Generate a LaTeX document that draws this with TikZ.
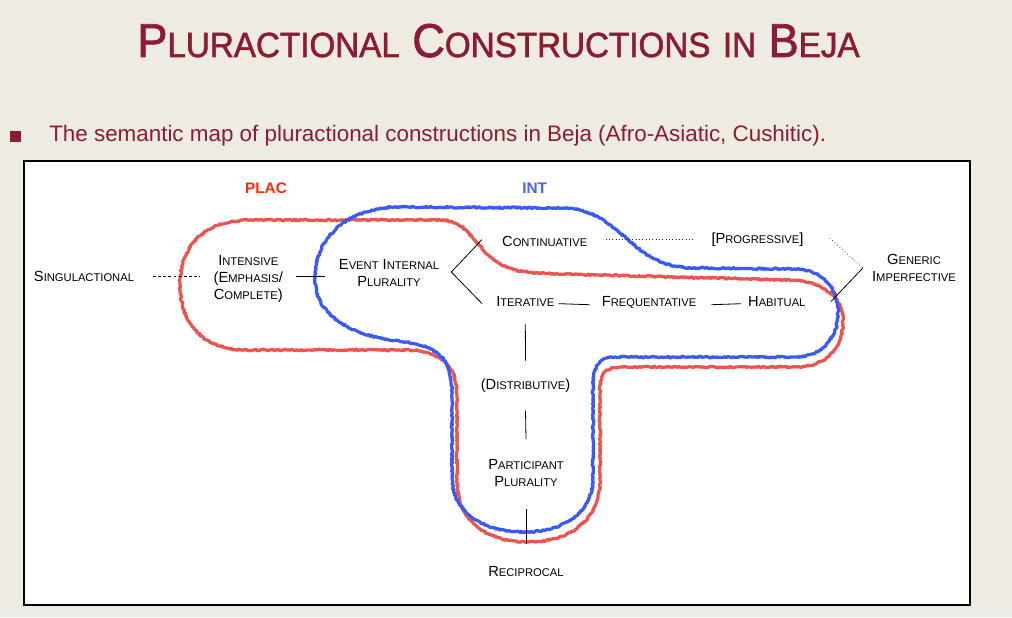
\documentclass[tikz,border=0pt]{standalone}
\usepackage{fontspec}
\setmainfont{Liberation Sans}
\newfontfamily\titrefont{Liberation Sans}[FakeBold=1.6,FakeStretch=0.95]
\usetikzlibrary{calc,decorations.pathmorphing}

\definecolor{bordeaux}{RGB}{140,28,52}
\definecolor{fond}{RGB}{238,235,227}
\definecolor{rougeplac}{RGB}{236,84,80}
\definecolor{bleuint}{RGB}{58,90,245}
\definecolor{rougelab}{RGB}{255,45,10}
\definecolor{bleulab}{RGB}{72,100,240}

% petites capitales simulees
\newcommand\kap[2]{#1{\fontsize{8.4}{9.6}\selectfont #2}}
\newcommand\tkap[2]{#1{\fontsize{26.2}{30}\selectfont #2}}

\begin{document}
\begin{tikzpicture}[x=0.75pt,y=-0.75pt,
  etiq/.style={font=\fontsize{11}{12.75}\selectfont, inner sep=0pt, align=center},
  trait/.style={line width=0.6pt},
  pointille/.style={line width=0.5pt, dotted, black!85},
  tirets/.style={line width=0.6pt, dash pattern=on 2.2pt off 1.6pt},
  zone/.style={line width=2.4pt, line join=round, decorate,
    decoration={random steps, segment length=1pt, amplitude=0.6pt}}]
\pgfmathsetseed{7}

% Fond
\fill[fond] (0,0) rectangle (1012,617);
\useasboundingbox (0,0) rectangle (1012,617);

% Titre
\node[anchor=base, inner sep=0pt, text=bordeaux, font=\titrefont\fontsize{35.6}{40}\selectfont] (titre) at (498.5,57)
  {\tkap{P}{LURACTIONAL} \tkap{C}{ONSTRUCTIONS} \tkap{}{IN} \tkap{B}{EJA}};

% Puce et sous-titre
\fill[bordeaux] (10,131) rectangle (21,142);
\node[anchor=base west, inner sep=0pt, text=bordeaux, font=\fontsize{16.8}{20}\selectfont] (soustitre) at (49,141.7)
  {The semantic map of pluractional constructions in Beja (Afro-Asiatic, Cushitic).};

% Cadre
\draw[fill=white, line width=0.8pt] (24,161) rectangle (970,605);

% Zone PLAC
\draw[zone, rougeplac] (250,220) -- (440,220) .. controls (470,220) and (475,250) .. (500,264)
  .. controls (515,272) and (530,273) .. (560,274) -- (790,280)
  .. controls (820,281) and (843,295) .. (843,320) .. controls (843,350) and (825,367) .. (795,367)
  -- (620,367) .. controls (605,367) and (600,375) .. (600,392) -- (600,480)
  .. controls (600,520) and (570,542) .. (528,542) .. controls (485,542) and (457,520) .. (457,480)
  -- (457,395) .. controls (457,365) and (440,351) .. (410,350) -- (245,350)
  .. controls (205,350) and (180,325) .. (180,285) .. controls (180,245) and (205,220) .. (250,220) -- cycle;

% Zone INT
\draw[zone, bleuint] (400,207) -- (565,208) .. controls (610,210) and (625,245) .. (655,259)
  .. controls (668,266) and (680,268) .. (700,268) -- (795,269)
  .. controls (825,270) and (838,290) .. (838,312) .. controls (838,340) and (820,357) .. (795,357)
  -- (615,357) .. controls (600,357) and (593,367) .. (593,385) -- (593,478)
  .. controls (593,512) and (565,532) .. (523,532) .. controls (480,532) and (452,510) .. (452,478)
  -- (452,395) .. controls (452,360) and (440,347) .. (405,342)
  .. controls (340,335) and (315,310) .. (315,278) .. controls (315,235) and (350,207) .. (400,207) -- cycle;

% Etiquettes
\node[anchor=base, text=rougelab, font=\bfseries\fontsize{11.5}{14}\selectfont] (plac) at (266,193.3) {PLAC};
\node[anchor=base, text=bleulab, font=\bfseries\fontsize{11.5}{14}\selectfont] (int) at (534.7,193.3) {INT};

\node[etiq, anchor=base] (sing) at (84,281) {\kap{S}{INGULACTIONAL}};
\node[etiq] (intens) at (248.3,279) {\kap{I}{NTENSIVE}\\(\kap{E}{MPHASIS}/\\\kap{C}{OMPLETE})};
\node[etiq] (eip) at (389,273) {\kap{E}{VENT} \kap{I}{NTERNAL}\\\kap{P}{LURALITY}};
\node[etiq, anchor=base] (cont) at (544.7,246.7) {\kap{C}{ONTINUATIVE}};
\node[etiq, anchor=base] (prog) at (757.5,243) {[\kap{P}{ROGRESSIVE}]};
\node[etiq] (gen) at (914,268) {\kap{G}{ENERIC}\\\kap{I}{MPERFECTIVE}};
\node[etiq, anchor=base] (iter) at (525.3,306.7) {\kap{I}{TERATIVE}};
\node[etiq, anchor=base] (freq) at (649,306.7) {\kap{F}{REQUENTATIVE}};
\node[etiq, anchor=base] (hab) at (776.8,306.7) {\kap{H}{ABITUAL}};
\node[etiq, anchor=base] (dist) at (525.5,389.3) {(\kap{D}{ISTRIBUTIVE})};
\node[etiq] (part) at (526,473.3) {\kap{P}{ARTICIPANT}\\\kap{P}{LURALITY}};
\node[etiq, anchor=base] (recip) at (526,576) {\kap{R}{ECIPROCAL}};

% Liens
\draw[tirets, shorten <=14.25pt, shorten >=9.75pt] (sing.east) -- (sing.east -| intens.west);
\draw[trait, shorten <=9.5pt, shorten >=10.5pt] (intens.east |- sing) -- (sing -| eip.west);

\coordinate (fourche) at ($(eip.east)+(12,-1)$);
\draw[trait] ($(cont.west)+(-20,-2)$) -- (fourche) -- ($(iter.west)+(-14,2)$);

\draw[pointille, shorten <=13.5pt, shorten >=12.75pt] (cont.east |- prog) -- (prog.west);
\coordinate (coude) at ($(gen.west)+(-9,0)$);
\draw[pointille] ($(prog.east)+(26,-1)$) -- (coude);
\draw[trait] (coude) -- ($(hab.east)+(25,0)$);

\draw[trait] ($(iter.east)+(4,2)$) -- ($(freq.west)+(-12,2)$);
\draw[trait] ($(freq.east)+(15,2)$) -- ($(hab.west)+(-7,2)$);

\draw[trait] ($(iter)+(0,22)$) -- ($(dist)+(0,-25)$);
\draw[trait] ($(dist)+(0,25)$) -- ($(part)+(0,-34)$);
\draw[trait] ($(part)+(0,36)$) -- ($(recip)+(0,-27)$);

\end{tikzpicture}
\end{document}
